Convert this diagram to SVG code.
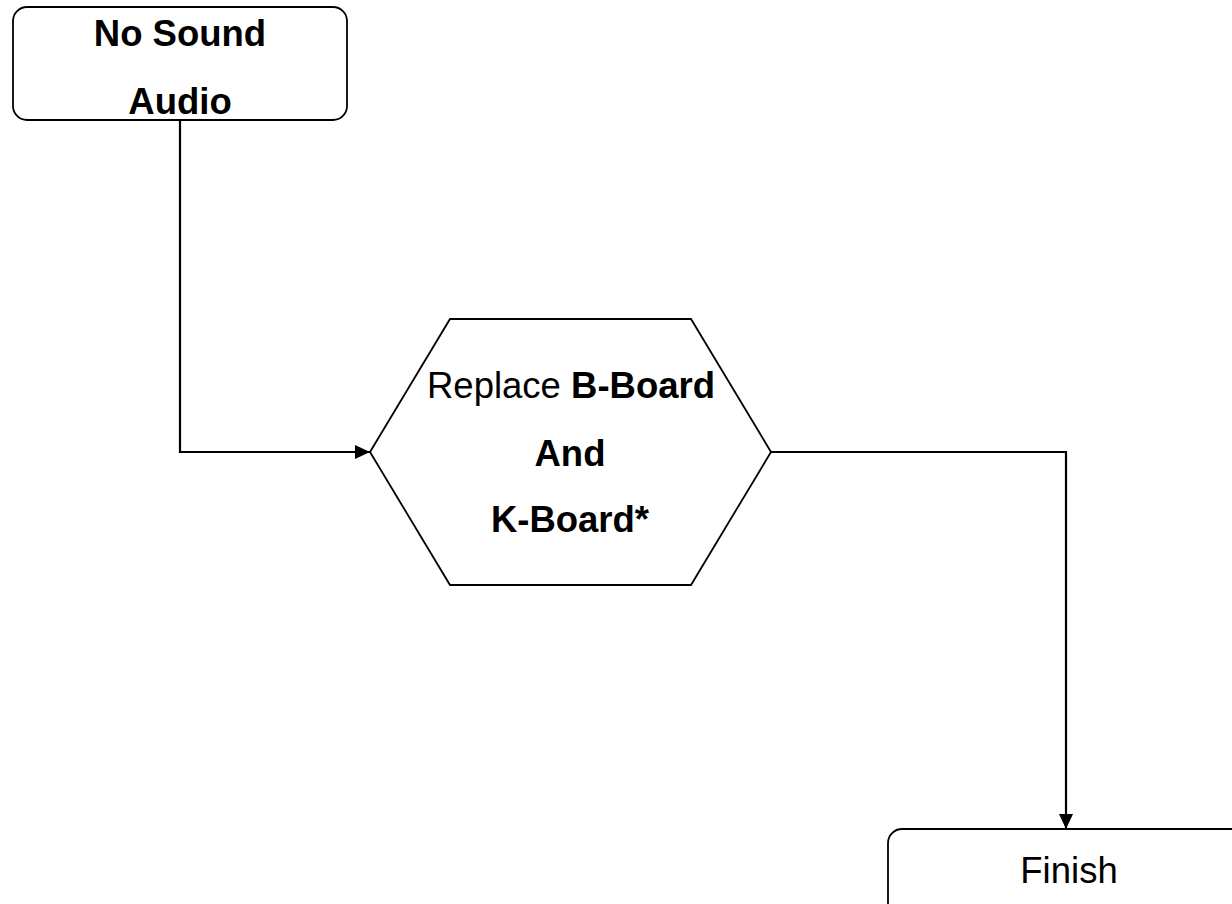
<svg xmlns="http://www.w3.org/2000/svg" width="1232" height="904" viewBox="0 0 1232 904">
  <defs>
    <marker id="arrow" viewBox="0 0 15 14" refX="15" refY="7" markerWidth="15" markerHeight="14" markerUnits="userSpaceOnUse" orient="auto">
      <path d="M0,0 L15,7 L0,14 Z" fill="#000"/>
    </marker>
    <style>
      .shape { fill: #fff; stroke: #000; stroke-width: 1.8; }
      .edge { fill: none; stroke: #000; stroke-width: 2.2; marker-end: url(#arrow); }
      text { font-family: "Liberation Sans", Arial, sans-serif; font-size: 36.5px; fill: #000; text-anchor: middle; }
      .b { font-weight: bold; }
    </style>
  </defs>
  <rect width="1232" height="904" fill="#fff"/>

  <!-- connectors -->
  <g id="connectors">
    <path class="edge" d="M180,121 L180,452 L370,452"/>
    <path class="edge" d="M771,452 L1066,452 L1066,829"/>
  </g>

  <!-- start: No Sound Audio -->
  <g id="node-start">
    <rect class="shape" x="13" y="7" width="334" height="113" rx="14" ry="14"/>
    <text class="b" x="180" y="46">No Sound</text>
    <text class="b" x="180" y="114">Audio</text>
  </g>

  <!-- action: replace boards -->
  <g id="node-replace">
    <polygon class="shape" points="370,452 450,319 691,319 771,452 691,585 450,585"/>
    <text x="571" y="398">Replace <tspan class="b">B-Board</tspan></text>
    <text class="b" x="570" y="466">And</text>
    <text class="b" x="570" y="532">K-Board*</text>
  </g>

  <!-- end: Finish -->
  <g id="node-finish">
    <rect class="shape" x="888" y="829" width="380" height="110" rx="14" ry="14"/>
    <text x="1069" y="883">Finish</text>
  </g>
</svg>
